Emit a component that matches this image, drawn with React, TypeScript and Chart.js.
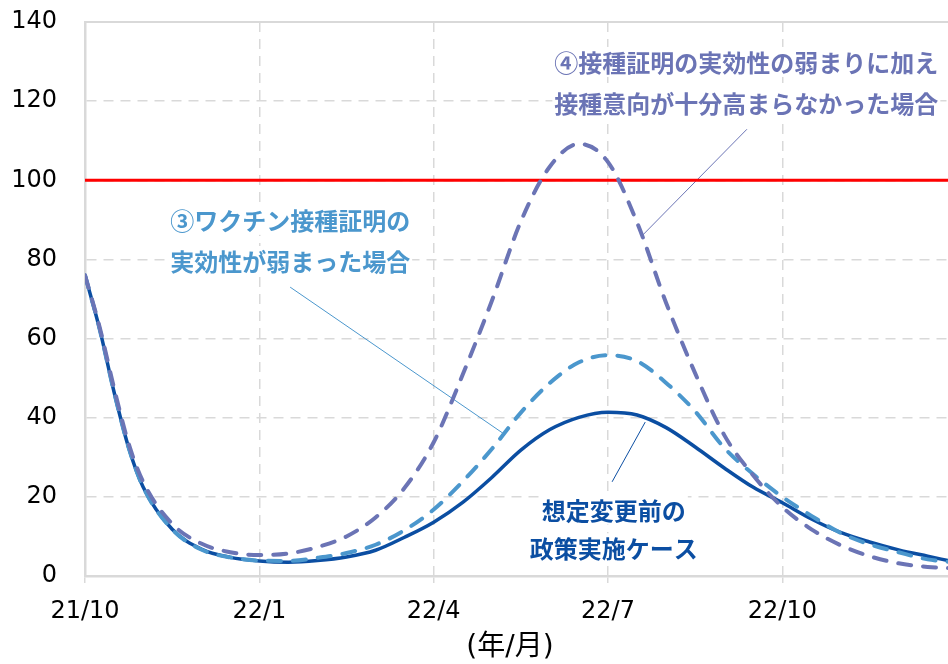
import React, { useEffect, useRef } from "react";
import { Chart, registerables } from "chart.js";

Chart.register(...registerables);

// x values: months elapsed since 2021/10
const months = [0, 0.25, 0.5, 0.75, 1, 1.5, 2, 2.5, 3, 3.5, 4, 4.5, 5, 5.5, 6, 6.5, 7, 7.5, 8, 8.5, 9, 9.5, 10, 10.5, 11, 11.5, 12, 12.5, 13, 13.5, 14, 14.5, 14.85];

// 想定変更前の政策実施ケース
const policyCase = [76, 62.5, 46.5, 32.5, 22.5, 11.8, 6.8, 4.7, 3.8, 3.5, 3.9, 4.8, 6.5, 9.8, 13.6, 18.6, 24.9, 31.8, 37.0, 40.1, 41.4, 40.7, 37.5, 32.6, 27.3, 22.4, 18.5, 14.4, 11.0, 8.6, 6.6, 5.0, 3.9];

// ③ワクチン接種証明の実効性が弱まった場合
const certWeakened = [76, 62.5, 46.5, 32.5, 22.5, 11.8, 6.7, 4.7, 3.9, 3.8, 4.6, 5.8, 7.9, 11.6, 16.8, 23.9, 32.1, 41.3, 48.8, 54.0, 55.8, 54.3, 48.8, 41.6, 32.4, 25.7, 20.0, 15.2, 10.9, 8.0, 6.0, 4.2, 3.6];

// ④接種証明の実効性の弱まりに加え接種意向が十分高まらなかった場合
const certAndIntentWeak = [76, 63, 47.5, 33.5, 23.8, 13.2, 8.2, 6.0, 5.3, 5.7, 7.3, 10.0, 14.8, 22.3, 33.8, 50.9, 69.5, 89.6, 103.5, 109.2, 104.6, 89.3, 69.0, 51.2, 35.6, 25.4, 17.4, 11.8, 7.8, 5.0, 3.2, 2.3, 2.0];

const thresholdValue = 100;
const xMin = 0;
const xMax = 14.85;
const xTickMonths = [0, 3, 6, 9, 12];
const xTickLabels = ["21/10", "22/1", "22/4", "22/7", "22/10"];
const yMin = 0;
const yMax = 140;
const yStep = 20;
const xAxisTitle = "(年/月)";

const labelPolicy = ["想定変更前の", "政策実施ケース"];
const labelCert = ["③ワクチン接種証明の", "実効性が弱まった場合"];
const labelIntent = ["④接種証明の実効性の弱まりに加え", "接種意向が十分高まらなかった場合"];

const COLOR_POLICY = "#0B4EA2";
const COLOR_CERT = "#4B97CD";
const COLOR_INTENT = "#6B74B5";
const GRID = "#D9D9D9";

const toPoints = (ys: number[]) => months.map((m, i) => ({ x: m, y: ys[i] }));

// annotation placement (data coordinates)
const annotations = [
  { lines: labelIntent, color: COLOR_INTENT, x: 11.38, y: [129.9, 119.6], leader: [[11.39, 112.9], [9.6, 86.2]] },
  { lines: labelCert, color: COLOR_CERT, x: 3.53, y: [90.0, 79.6], leader: [[3.53, 73.0], [7.19, 36.1]] },
  { lines: labelPolicy, color: COLOR_POLICY, x: 9.1, y: [16.8, 7.0], leader: [[9.64, 38.9], [9.07, 23.8]] },
];

const CJK_FONT = '"Noto Sans CJK JP", "Noto Sans", sans-serif';

const overlayPlugin = {
  id: "overlay",
  beforeDatasetsDraw(chart: any) {
    const { ctx, chartArea, scales } = chart;
    const xs = scales.x;
    const ys = scales.y;
    ctx.save();
    // solid top frame line
    ctx.strokeStyle = GRID;
    ctx.lineWidth = 2;
    ctx.setLineDash([]);
    ctx.beginPath();
    ctx.moveTo(chartArea.left, chartArea.top);
    ctx.lineTo(chartArea.right, chartArea.top);
    ctx.stroke();

    ctx.font = `bold 24px ${CJK_FONT}`;
    ctx.textAlign = "center";
    ctx.textBaseline = "middle";
    for (const a of annotations) {
      const cx = xs.getPixelForValue(a.x);
      a.lines.forEach((t, i) => {
        const cy = ys.getPixelForValue(a.y[i]);
        const w = ctx.measureText(t).width;
        ctx.fillStyle = "#FFFFFF";
        ctx.fillRect(cx - w / 2 - 2, cy - 15, w + 4, 30);
        ctx.fillStyle = a.color;
        ctx.fillText(t, cx, cy + 1);
      });
      // leader line
      ctx.strokeStyle = a.color;
      ctx.lineWidth = 1;
      ctx.beginPath();
      ctx.moveTo(xs.getPixelForValue(a.leader[0][0]), ys.getPixelForValue(a.leader[0][1]));
      ctx.lineTo(xs.getPixelForValue(a.leader[1][0]), ys.getPixelForValue(a.leader[1][1]));
      ctx.stroke();
    }
    ctx.restore();
  },
  afterDraw(chart: any) {
    const { ctx } = chart;
    ctx.save();
    ctx.font = `28px "DejaVu Sans", ${CJK_FONT}`;
    ctx.fillStyle = "#000000";
    ctx.textAlign = "center";
    ctx.textBaseline = "middle";
    ctx.fillText(xAxisTitle, 510, 648);
    ctx.restore();
  },
};

export default function App() {
  const canvasRef = useRef<HTMLCanvasElement | null>(null);

  useEffect(() => {
    const canvas = canvasRef.current;
    if (!canvas) return;
    const chart = new Chart(canvas, {
      type: "line",
      data: {
        datasets: [
          {
            label: "④",
            data: toPoints(certAndIntentWeak),
            borderColor: COLOR_INTENT,
            borderWidth: 4,
            borderDash: [13, 12],
            borderCapStyle: "round",
            pointRadius: 0,
            cubicInterpolationMode: "monotone",
            fill: false,
          },
          {
            label: "③",
            data: toPoints(certWeakened),
            borderColor: COLOR_CERT,
            borderWidth: 4,
            borderDash: [13, 12],
            borderCapStyle: "round",
            pointRadius: 0,
            cubicInterpolationMode: "monotone",
            fill: false,
          },
          {
            label: "policy",
            data: toPoints(policyCase),
            borderColor: COLOR_POLICY,
            borderWidth: 3.5,
            pointRadius: 0,
            cubicInterpolationMode: "monotone",
            fill: false,
          },
          {
            label: "threshold",
            data: [
              { x: xMin, y: thresholdValue },
              { x: xMax, y: thresholdValue },
            ],
            borderColor: "#FF0000",
            borderWidth: 3,
            pointRadius: 0,
            fill: false,
          },
        ],
      },
      options: {
        animation: false,
        responsive: true,
        maintainAspectRatio: false,
        layout: { padding: { top: 22, right: 0, left: 0, bottom: 0 } },
        plugins: {
          legend: { display: false },
          tooltip: { enabled: false },
          title: { display: false },
        },
        scales: {
          x: {
            type: "linear",
            min: xMin,
            max: xMax,
            afterBuildTicks: (scale: any) => {
              scale.ticks = xTickMonths.map((v) => ({ value: v }));
            },
            afterFit: (scale: any) => {
              scale.height = 88;
              scale.paddingLeft = 0;
              scale.paddingRight = 0;
            },
            ticks: {
              callback: (_v: any, i: number) => xTickLabels[i],
              font: { family: '"DejaVu Sans", sans-serif', size: 24 },
              color: "#000000",
              padding: 14,
              maxRotation: 0,
              autoSkip: false,
            },
            grid: {
              color: GRID,
              lineWidth: 1.5,
              drawTicks: true,
              tickLength: 7,
              tickColor: GRID,
            },
            border: { display: true, color: GRID, width: 2.5, dash: [10, 7] },
          },
          y: {
            type: "linear",
            min: yMin,
            max: yMax,
            afterFit: (scale: any) => {
              scale.width = 85;
              scale.paddingTop = 0;
              scale.paddingBottom = 0;
            },
            ticks: {
              stepSize: yStep,
              font: { family: '"DejaVu Sans", sans-serif', size: 24 },
              color: "#000000",
              padding: 28,
            },
            grid: {
              color: GRID,
              lineWidth: 1.5,
              drawTicks: false,
            },
            border: { display: true, color: GRID, width: 2.5, dash: [10, 7] },
          },
        },
      },
      plugins: [overlayPlugin],
    });
    return () => chart.destroy();
  }, []);

  return (
    <div style={{ position: "absolute", left: 0, top: 0, width: 948, height: 664, background: "#FFFFFF" }}>
      <canvas ref={canvasRef} />
    </div>
  );
}
